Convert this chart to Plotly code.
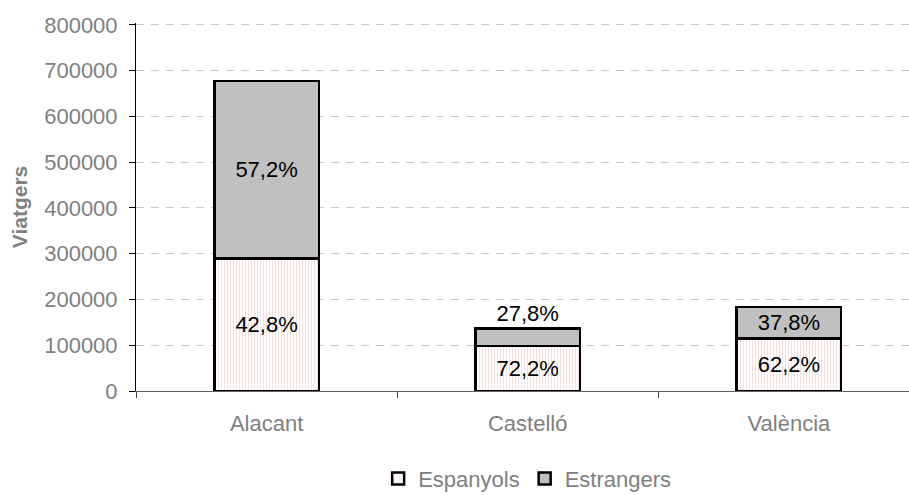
import plotly.graph_objects as go

categories = ["Alacant", "Castelló", "València"]
espanyols = [290000, 98200, 114500]
estrangers = [387000, 38000, 69500]
pct_esp = ["42,8%", "72,2%", "62,2%"]
pct_est = ["57,2%", "27,8%", "37,8%"]
y_ticks = [0, 100000, 200000, 300000, 400000, 500000, 600000, 700000, 800000]

FONT = "Liberation Sans, Arial, sans-serif"
GRAY = "#808080"

fig = go.Figure()
fig.add_trace(go.Bar(
    name="Espanyols", x=categories, y=espanyols, text=pct_esp,
    textposition="inside", insidetextanchor="middle",
    textfont=dict(family=FONT, size=22, color="black"),
    marker=dict(color="white", line=dict(color="black", width=2.5),
                pattern=dict(shape="|", fgcolor="#e6b8b8", size=3, solidity=0.3)),
    width=0.4,
))
fig.add_trace(go.Bar(
    name="Estrangers", x=categories, y=estrangers, text=pct_est,
    textposition=["inside", "outside", "inside"], insidetextanchor="middle",
    textfont=dict(family=FONT, size=22, color="black"),
    cliponaxis=False,
    marker=dict(color="#C0C0C0", line=dict(color="black", width=2.5)),
    width=0.4,
))

fig.update_layout(
    barmode="stack",
    width=909, height=495,
    margin=dict(l=136, r=0, t=23, b=104, autoexpand=False),
    paper_bgcolor="white", plot_bgcolor="white",
    font=dict(family=FONT, color=GRAY, size=22),
    uniformtext=dict(mode="show", minsize=22),
    showlegend=True,
    legend=dict(orientation="h", x=0.506, xanchor="center", y=-0.238, yanchor="middle",
                font=dict(family=FONT, size=22, color=GRAY), traceorder="normal",
                itemwidth=30),
    xaxis=dict(
        range=[-0.5, 2.46], showline=True, linecolor="#606060", linewidth=1,
        ticks="outside", tickson="boundaries", ticklen=6, tickcolor="#404040",
        ticklabelstandoff=13, tickfont=dict(family=FONT, size=22, color=GRAY),
        showgrid=False, automargin=False,
    ),
    yaxis=dict(
        range=[0, 804000], tickvals=y_ticks, ticktext=[str(v) for v in y_ticks],
        showline=True, linecolor="black", linewidth=1,
        ticks="outside", ticklen=6, tickcolor="black",
        tickfont=dict(family=FONT, size=22, color=GRAY),
        ticklabelstandoff=7, automargin=False,
        showgrid=True, gridcolor="#C8C8C8", gridwidth=1, griddash="8px,7px",
        zeroline=False,
        title=dict(text="<b>Viatgers</b>", font=dict(family=FONT, size=21, color=GRAY), standoff=10),
    ),
)

fig.write_html(
    "out.html",
    config={"displayModeBar": False},
    post_script="document.body.style.margin='0';document.body.style.padding='0';document.body.style.overflow='hidden';",
)
